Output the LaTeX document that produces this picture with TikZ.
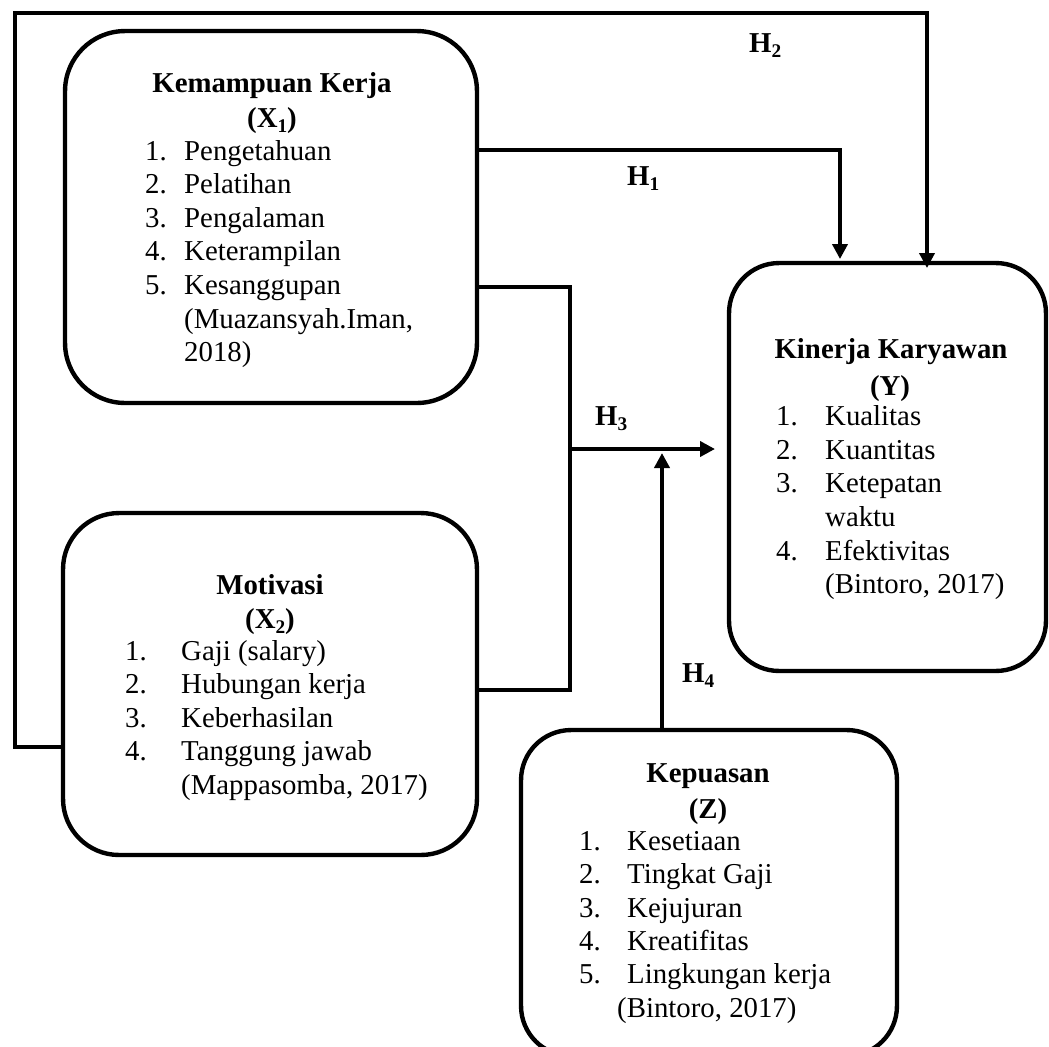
\documentclass[tikz,border=0pt]{standalone}
\usepackage{fontspec}
\setmainfont{Liberation Serif}
\usetikzlibrary{arrows.meta,calc}
\newcommand\mysub[1]{\raisebox{-0.2em}{\fontsize{11}{12}\selectfont #1}}
\begin{document}
\begin{tikzpicture}[x=0.02cm,y=-0.02cm,
  line width=2.5pt,
  box/.style={draw, inner sep=0pt, outer sep=0pt},
  lt/.style={inner sep=0pt, anchor=base west, font=\fontsize{16.4}{19}\selectfont},
  tt/.style={inner sep=0pt, anchor=base, font=\fontsize{16.4}{19}\selectfont\bfseries},
  hl/.style={inner sep=0pt, anchor=base west, font=\fontsize{16.4}{19}\selectfont\bfseries},
  arr/.style={-{Triangle[length=0.3cm,width=0.3cm]}}
]
\clip (0,0) rectangle (1049,1046);
\useasboundingbox (0,0) rectangle (1049,1046);

% boxes
\node[box, minimum width=8.24cm, minimum height=7.44cm, rounded corners=1.2cm] (x1) at (271,217) {};
\node[box, minimum width=8.28cm, minimum height=6.84cm, rounded corners=1.12cm] (x2) at (270,684) {};
\node[box, minimum width=6.34cm, minimum height=8.16cm, rounded corners=1.0cm] (y) at (887.5,467) {};
\node[box, minimum width=7.52cm, minimum height=6.52cm, rounded corners=1.0cm] (z) at (709,893) {};

% X1 text
\node[tt] (x1a) at (272,92) {Kemampuan Kerja};
\node[tt] (x1b) at (272,127) {(X\mysub{1})};
\node[lt] (x1n1) at (143,160) {1.};
\node[lt] (x1t1) at (182,160) {Pengetahuan};
\node[lt] (x1n2) at (143,193.5) {2.};
\node[lt] (x1t2) at (182,193.5) {Pelatihan};
\node[lt] (x1n3) at (143,227) {3.};
\node[lt] (x1t3) at (182,227) {Pengalaman};
\node[lt] (x1n4) at (143,260.5) {4.};
\node[lt] (x1t4) at (182,260.5) {Keterampilan};
\node[lt] (x1n5) at (143,294) {5.};
\node[lt] (x1t5) at (182,294) {Kesanggupan};
\node[lt] (x1t6) at (182,328) {(Muazansyah.Iman,};
\node[lt] (x1t7) at (182,361) {2018)};

% X2 text
\node[tt] (x2a) at (270,594) {Motivasi};
\node[tt] (x2b) at (270,628) {(X\mysub{2})};
\node[lt] (x2n1) at (123,660) {1.};
\node[lt] (x2t1) at (179,660) {Gaji (salary)};
\node[lt] (x2n2) at (123,693.5) {2.};
\node[lt] (x2t2) at (179,693.5) {Hubungan kerja};
\node[lt] (x2n3) at (123,727) {3.};
\node[lt] (x2t3) at (179,727) {Keberhasilan};
\node[lt] (x2n4) at (123,760) {4.};
\node[lt] (x2t4) at (179,760) {Tanggung jawab};
\node[lt] (x2t5) at (179,794) {(Mappasomba, 2017)};

% Y text
\node[tt] (ya) at (891,358) {Kinerja Karyawan};
\node[tt] (yb) at (890,395) {(Y)};
\node[lt] (yn1) at (774,425) {1.};
\node[lt] (yt1) at (823,425) {Kualitas};
\node[lt] (yn2) at (774,459) {2.};
\node[lt] (yt2) at (823,459) {Kuantitas};
\node[lt] (yn3) at (774,492.5) {3.};
\node[lt] (yt3) at (823,492.5) {Ketepatan};
\node[lt] (yt4) at (823,526) {waktu};
\node[lt] (yn5) at (774,560) {4.};
\node[lt] (yt5) at (823,560) {Efektivitas};
\node[lt] (yt6) at (823,593) {(Bintoro, 2017)};

% Z text
\node[tt] (za) at (708,782) {Kepuasan};
\node[tt] (zb) at (708,818) {(Z)};
\node[lt] (zn1) at (577,850) {1.};
\node[lt] (zt1) at (625,850) {Kesetiaan};
\node[lt] (zn2) at (577,883) {2.};
\node[lt] (zt2) at (625,883) {Tingkat Gaji};
\node[lt] (zn3) at (577,917) {3.};
\node[lt] (zt3) at (625,917) {Kejujuran};
\node[lt] (zn4) at (577,950) {4.};
\node[lt] (zt4) at (625,950) {Kreatifitas};
\node[lt] (zn5) at (577,983) {5.};
\node[lt] (zt5) at (625,983) {Lingkungan kerja};
\node[lt] (zt6) at (615,1017) {(Bintoro, 2017)};

% hypothesis labels
\node[hl] (h1) at (625,185) {H\mysub{1}};
\node[hl] (h2) at (747,52) {H\mysub{2}};
\node[hl] (h3) at (593,425) {H\mysub{3}};
\node[hl] (h4) at (680,682) {H\mysub{4}};

% helper coordinates
\coordinate (tl) at (15,13);
\coordinate (jn) at (570,449);
\coordinate (h3t) at (715,449);
\coordinate (h4t) at (662,453);

% H1
\draw[arr, shorten >=0.08cm] (x1.east |- 0,150) -| (y.north -| 840,0);
% H2
\draw[arr, shorten >=-0.1cm] (x2.west |- 0,747) -| (tl) -| (y.north -| 927,0);
% H3 joint
\draw (x1.east |- 0,287) -| (570,690) -- (x2.east |- 0,690);
\draw[arr] (jn) -- (h3t);
% H4
\draw[arr] (z.north -| h4t) -- (h4t);
\end{tikzpicture}
\end{document}
